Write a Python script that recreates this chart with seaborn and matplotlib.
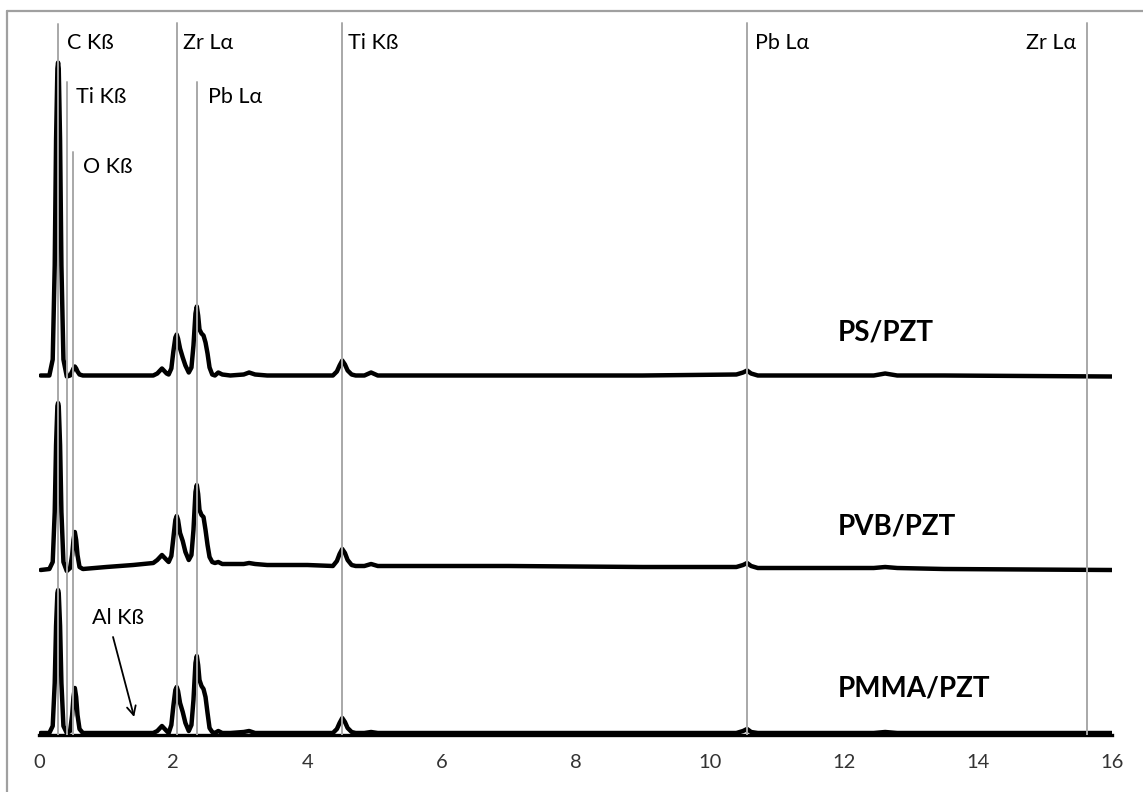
import numpy as np
import pandas as pd
import matplotlib
matplotlib.use("Agg")
import matplotlib.pyplot as plt
from matplotlib.lines import Line2D
from matplotlib.ticker import MultipleLocator
import seaborn as sns

# ---------------- data ----------------
energy = [0.02, 0.15,
          0.20, 0.23, 0.25, 0.27, 0.28, 0.29, 0.31, 0.33, 0.36,
          0.41, 0.46, 0.49, 0.51, 0.53, 0.55, 0.57, 0.60, 0.65,
          1.00, 1.40, 1.70,
          1.76, 1.83, 1.90, 1.93,
          1.97, 2.00, 2.03, 2.05, 2.07, 2.10, 2.14, 2.18, 2.23, 2.27, 2.30,
          2.33, 2.35, 2.37, 2.39, 2.42, 2.45, 2.48, 2.51, 2.54, 2.58, 2.62,
          2.67, 2.73, 2.85, 3.05, 3.13, 3.22, 3.40, 4.00,
          4.38, 4.44, 4.48, 4.52, 4.56, 4.60, 4.66, 4.72,
          4.85, 4.95, 5.05, 7.00, 9.00,
          10.40, 10.50, 10.56, 10.62, 10.72,
          12.45, 12.62, 12.80, 13.50, 16.00]

ps_pzt = [0, 0,
          16, 110, 235, 307, 313, 307, 235, 110, 16,
          -1, 0, 4, 7, 9, 7, 4, 1, 0,
          0, 0, 0,
          2, 7, 2, 1,
          7, 24, 38, 41, 37, 27, 18, 10, 3, 8, 30,
          62, 69, 60, 46, 42, 40, 33, 22, 8, 1, 0,
          3, 1, 0, 1, 3, 1, 0, 0,
          0, 4, 10, 15, 11, 5, 1, 0,
          0, 3, 0, 0, 0,
          1, 3, 5, 2, 0,
          0, 2, 0, 0, -1]

pvb_pzt = [0, 1,
           8, 58, 125, 164, 167, 164, 125, 58, 8,
           -1, 2, 15, 30, 38, 30, 15, 3, 1,
           3, 5, 7,
           10, 15, 10, 8,
           14, 32, 50, 54, 50, 37, 29, 18, 10, 15, 40,
           78, 85, 76, 60, 55, 53, 40, 25, 13, 8, 7,
           8, 6, 6, 6, 7, 6, 5, 5,
           4, 9, 16, 21, 17, 10, 5, 4,
           4, 6, 4, 4, 3,
           3, 5, 7, 4, 2,
           2, 3, 2, 1, 0]

pmma_pzt = [0, 0,
            7, 50, 107, 140, 143, 140, 107, 50, 7,
            0, 2, 18, 36, 45, 36, 18, 4, 0,
            0, 0, 0,
            2, 7, 2, 0,
            8, 27, 43, 46, 42, 30, 21, 10, 2, 8, 33,
            70, 77, 68, 53, 47, 44, 36, 20, 5, 1, 0,
            2, 0, 0, 1, 2, 0, 0, 0,
            0, 4, 10, 15, 11, 5, 1, 0,
            0, 1, 0, 0, 0,
            0, 2, 4, 1, 0,
            0, 1, 0, 0, 0]

series_names = ["PS/PZT", "PVB/PZT", "PMMA/PZT"]
series_offsets = [359.5, 165, 2]

line_energies = [0.28, 0.41, 0.51, 2.055, 2.35, 4.51, 10.56, 15.63]
line_labels = ["C Kß", "Ti Kß", "O Kß", "Zr Lα", "Pb Lα", "Ti Kß", "Pb Lα", "Zr Lα"]
line_tops = [711, 653, 583, 712, 653, 712, 712, 712]
label_x = [0.41, 0.55, 0.65, 2.14, 2.52, 4.61, 10.68, 15.47]
label_y = [692, 638, 568, 692, 638, 692, 692, 692]
label_ha = ["left"] * 7 + ["right"]

name_x = 11.92
name_y = [402, 208, 47]

x_ticks = [0, 2, 4, 6, 8, 10, 12, 14, 16]

# ---------------- style ----------------
sns.set_style("white")
plt.rcParams["font.family"] = ["Lato", "DejaVu Sans"]

W, H = 1143, 792
fig = plt.figure(figsize=(W / 100, H / 100), dpi=100)
x0, x1 = 39.3, 1111.7
yb, yt = 735, 10
ax = fig.add_axes([x0 / W, (H - yb) / H, (x1 - x0) / W, (yb - yt) / H])

frames = []
for name, vals, off in zip(series_names, [ps_pzt, pvb_pzt, pmma_pzt], series_offsets):
    frames.append(pd.DataFrame({"energy": energy,
                                "signal": np.array(vals, dtype=float) + off,
                                "sample": name}))
df = pd.concat(frames, ignore_index=True)

sns.lineplot(data=df, x="energy", y="signal", units="sample", estimator=None,
             sort=False, color="black", lw=3.2, ax=ax, legend=False,
             solid_joinstyle="round", solid_capstyle="round", zorder=2)

for e, top in zip(line_energies, line_tops):
    ax.plot([e, e], [0, top], color="#a8a8a8", lw=1.4, zorder=3)

for lx, ly, txt, ha in zip(label_x, label_y, line_labels, label_ha):
    ax.text(lx, ly, txt, ha=ha, va="center", fontsize=15.5, color="black")

for ny, nm in zip(name_y, series_names):
    ax.text(name_x, ny, nm, ha="left", va="center", fontsize=20,
            fontweight="bold", color="black")

ax.text(0.79, 117, "Al Kß", ha="left", va="center", fontsize=15.5, color="black")
ax.annotate("", xy=(1.415, 18), xytext=(1.10, 98),
            arrowprops=dict(arrowstyle="->", lw=1.3, color="black",
                            mutation_scale=16, shrinkA=0, shrinkB=0))

ax.set_xlim(0, 16)
ax.set_ylim(0, 725)
ax.set_xticks(x_ticks)
ax.set_xticklabels([str(t) for t in x_ticks])
ax.xaxis.set_minor_locator(MultipleLocator(0.4))
ax.set_yticks([])
ax.set_xlabel("")
ax.set_ylabel("")
for s in ["top", "right", "left"]:
    ax.spines[s].set_visible(False)
ax.spines["bottom"].set_linewidth(2.4)
ax.spines["bottom"].set_color("black")
ax.tick_params(axis="x", which="major", direction="inout", length=12,
               width=2.2, color="black", labelsize=14.5, labelcolor="#333333",
               pad=8)
ax.tick_params(axis="x", which="minor", direction="in", length=3,
               width=2.0, color="black")
ax.patch.set_alpha(0)

# chart border (top and left visible)
bc = "#a0a0a0"
fig.add_artist(Line2D([7 / W, 1.0], [1 - 11 / H, 1 - 11 / H],
                      transform=fig.transFigure, color=bc, lw=1.6))
fig.add_artist(Line2D([7 / W, 7 / W], [0, 1 - 11 / H],
                      transform=fig.transFigure, color=bc, lw=1.6))

fig.savefig("out.png", dpi=100)
